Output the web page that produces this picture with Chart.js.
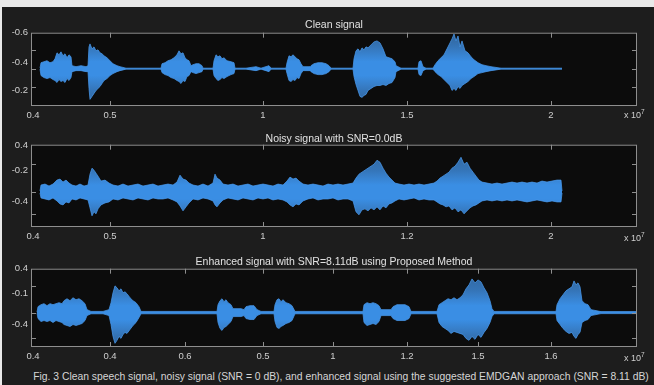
<!DOCTYPE html>
<html>
<head>
<meta charset="utf-8">
<script src="https://cdn.jsdelivr.net/npm/chart.js@4.4.1/dist/chart.umd.min.js"></script>
<style>
  html, body { margin:0; padding:0; }
  body { width:654px; height:385px; background:#e9e9e9; position:relative; overflow:hidden;
         font-family:"Liberation Sans", Arial, sans-serif; }
  #bg { position:absolute; left:2px; top:7px; width:652px; height:378px; background:#1d1d1d; }
  canvas { position:absolute; left:0; }
  .title { position:absolute; left:31px; width:606px; text-align:center; color:#e2e2e2; font-size:10.5px; line-height:12px; }
  .exp { position:absolute; left:624px; color:#cfcfcf; font-size:9px; line-height:10px; }
  .exp sup { font-size:6.5px; vertical-align:4px; }
  #caption { position:absolute; left:0; width:654px; top:371px; text-align:center; color:#d6d6d6; font-size:10.35px; line-height:12px; padding-left:28px; box-sizing:border-box; white-space:nowrap; }
</style>
</head>
<body>
<div id="bg"></div>
<canvas id="c1" width="654" height="100" style="top:24px"></canvas>
<canvas id="c2" width="654" height="109" style="top:136px"></canvas>
<canvas id="c3" width="654" height="105" style="top:260px"></canvas>
<div class="title" style="top:18px">Clean signal</div>
<div class="title" style="top:132px">Noisy signal with SNR=0.0dB</div>
<div class="title" style="top:255px">Enhanced signal with SNR=8.11dB using Proposed Method</div>
<div class="exp" style="top:107px">x 10<sup>7</sup></div>
<div class="exp" style="top:230px">x 10<sup>7</sup></div>
<div class="exp" style="top:350px">x 10<sup>7</sup></div>
<div id="caption">Fig. 3 Clean speech signal, noisy signal (SNR = 0 dB), and enhanced signal using the suggested EMDGAN approach (SNR = 8.11 dB)</div>
<script>
// ---------- DATA (time in frames, amplitude envelope in units of 0.01) ----------
const cleanTime = [9,10,13,16,19,22,24,26,28,30,
 32,34,36,38,40,41,45,50,55,57,
 58,59,61,63,65,67,69,71,73,76,
 79,82,86,89,95,110,125,130,131,134,
 137,140,143,146,148,150,152,154,156,158,
 160,162,165,168,171,172,180,182,183,185,
 187,189,191,193,196,200,203,204,215,225,
 230,238,240,255,256,258,260,262,264,266,
 268,270,272,276,279,280,283,287,291,295,
 298,300,310,322,323,325,327,329,331,333,
 335,337,340,343,346,349,352,355,358,361,
 364,365,370,380,387,388,390,392,395,402,
 404,407,410,413,416,419,421,423,425,427,
 429,431,434,437,440,443,447,451,455,460,
 470,500,531];
const cleanUpper = [0.5,6,7,8,6,7,10,16,14,17,
 13,15,11,14,12,3,2,3,2,3,
 22,25,20,22,18,19,16,15,13,11,
 8,5,3,2,0.5,0.5,0.5,0.5,5,6,
 8,9,11,14,18,15,16,11,9,8,
 3,4,5,5,3,0.5,0.5,0.5,8,14,
 12,13,10,11,8,7,6,0.5,0.5,2,
 0.5,3,0.5,0.5,6,13,12,14,12,10,
 9,5,2,2,2,3,5,6,6,5,
 3,0.5,0.5,0.5,10,18,20,17,21,19,
 22,21,24,27,28,26,20,12,11,10,
 7,3,0.5,0.5,0.5,7,8,2,0.5,0.5,
 4,8,11,14,20,26,30,35,28,33,
 22,28,18,16,12,9,6,4,3,2,
 0.5,0.5,0.5];
const cleanLower = [-0.5,-7,-9,-10,-9,-11,-12,-14,-11,-13,
 -12,-14,-10,-12,-9,-3,-2,-2,-3,-3,
 -20,-31,-28,-25,-22,-20,-18,-15,-12,-10,
 -7,-5,-3,-2,-0.5,-0.5,-0.5,-0.5,-4,-6,
 -7,-9,-10,-12,-13,-15,-12,-13,-8,-7,
 -3,-4,-5,-4,-3,-0.5,-0.5,-0.5,-7,-10,
 -12,-11,-9,-10,-8,-6,-5,-0.5,-0.5,-2,
 -0.5,-3,-0.5,-0.5,-5,-12,-13,-11,-12,-9,
 -10,-5,-2,-2,-2,-3,-5,-6,-6,-5,
 -3,-0.5,-0.5,-0.5,-8,-16,-22,-28,-29,-27,
 -26,-22,-20,-18,-17,-17,-16,-17,-15,-14,
 -9,-3,-0.5,-0.5,-0.5,-6,-7,-2,-0.5,-0.5,
 -3,-6,-8,-11,-14,-17,-22,-20,-22,-18,
 -20,-17,-15,-13,-10,-8,-5,-4,-3,-2,
 -0.5,-0.5,-0.5];

const noisyTime = [9,10,14,18,22,26,29,32,35,38,
 41,45,49,53,57,59,61,63,65,67,
 70,74,78,82,87,92,97,102,107,112,
 117,122,127,132,137,142,146,149,152,155,
 158,162,167,172,177,182,184,186,189,192,
 197,202,207,212,217,222,227,232,237,242,
 247,252,256,259,262,265,268,272,277,282,
 287,292,297,302,307,312,317,322,325,328,
 331,334,337,340,343,346,349,352,355,358,
 361,364,368,373,378,383,388,393,398,403,
 406,409,412,415,418,421,424,427,430,433,
 436,439,442,445,448,451,456,461,466,471,
 476,481,486,491,496,501,506,511,516,521,
 526,530,531];
const noisyUpper = [1,7,8,6,8,12,13,10,12,9,
 7,6,8,6,7,18,24,22,19,16,
 11,12,9,7,6,8,6,7,8,6,
 7,8,6,7,8,7,10,17,13,12,
 9,7,6,8,6,9,18,14,12,8,
 7,8,6,7,8,6,7,8,7,6,
 8,7,11,15,13,14,11,8,7,8,
 7,6,8,7,8,7,8,9,14,18,
 20,22,24,26,28,32,30,24,19,15,
 12,9,8,7,8,7,8,7,8,9,
 11,14,16,18,20,24,26,30,35,28,
 30,24,20,16,12,10,9,8,9,8,
 9,10,9,10,9,10,9,11,10,11,
 12,12,1];
const noisyLower = [-1,-6,-7,-8,-6,-9,-12,-13,-10,-11,
 -7,-8,-6,-7,-8,-16,-24,-20,-22,-17,
 -13,-11,-10,-7,-8,-6,-7,-8,-6,-7,
 -8,-6,-7,-7,-6,-8,-10,-14,-19,-15,
 -11,-7,-8,-6,-7,-9,-13,-15,-11,-8,
 -6,-7,-8,-6,-7,-8,-6,-7,-6,-8,
 -7,-8,-10,-13,-15,-12,-13,-9,-7,-6,
 -8,-7,-7,-6,-8,-7,-7,-9,-20,-23,
 -18,-17,-19,-16,-18,-15,-18,-14,-16,-12,
 -11,-9,-7,-8,-7,-6,-8,-7,-8,-8,
 -10,-12,-13,-15,-14,-18,-16,-20,-18,-22,
 -19,-16,-14,-13,-11,-9,-8,-9,-8,-9,
 -8,-9,-8,-9,-10,-9,-8,-9,-10,-9,
 -10,-10,-1];

const enhancedTime = [6,7,10,13,16,19,22,25,28,31,
 33,36,39,42,45,48,51,54,56,60,
 66,72,78,80,82,84,86,88,90,92,
 94,96,99,102,105,108,110,130,150,170,
 186,187,189,191,193,195,197,200,202,206,
 210,213,215,219,223,226,230,243,244,246,
 248,250,252,255,258,261,264,280,300,332,
 333,336,339,342,345,348,350,355,360,362,
 366,370,374,378,380,395,406,408,411,414,
 417,420,423,426,429,432,435,438,441,444,
 447,450,453,456,459,461,463,480,500,525,
 526,529,532,535,538,541,543,545,547,549,
 551,554,557,560,570,590,606];
const enhancedUpper = [0.5,6,8,9,7,9,8,9,10,9,
 12,14,12,15,13,14,12,9,3,1.2,
 1.2,1.2,3,10,20,27,25,22,24,20,
 21,19,15,12,10,6,1.2,1.2,1.2,1.2,
 1.2,8,12,14,11,13,10,8,4,4,
 4,3,6,7,7,3,1.2,1.2,8,13,
 14,11,13,10,9,7,1.2,1.2,1.2,1.2,
 8,10,9,10,9,7,3,3,3,6,
 8,8,8,6,1.2,1.2,1.2,8,10,12,
 14,13,15,13,15,18,24,28,34,30,
 33,31,25,20,12,4,1.2,1.2,1.2,1.2,
 8,14,18,22,24,26,32,28,30,26,
 12,9,8,3,1,1,1];
const enhancedLower = [-0.5,-6,-9,-8,-9,-8,-10,-8,-9,-10,
 -12,-13,-14,-12,-13,-12,-11,-8,-3,-1.2,
 -1.2,-1.2,-3,-12,-24,-31,-28,-24,-26,-22,
 -20,-21,-17,-13,-10,-5,-1.2,-1.2,-1.2,-1.2,
 -1.2,-10,-16,-18,-15,-14,-12,-9,-4,-4,
 -4,-3,-6,-7,-7,-3,-1.2,-1.2,-9,-15,
 -16,-14,-13,-11,-10,-8,-1.2,-1.2,-1.2,-1.2,
 -10,-13,-12,-11,-12,-9,-3,-3,-3,-6,
 -8,-8,-8,-6,-1.2,-1.2,-1.2,-10,-14,-16,
 -18,-21,-19,-20,-21,-22,-26,-28,-24,-27,
 -22,-25,-20,-16,-10,-4,-1.2,-1.2,-1.2,-1.2,
 -8,-12,-16,-19,-21,-20,-24,-26,-22,-20,
 -10,-8,-7,-3,-1,-1,-1];

// tick labels (as printed in the figure) and their axis values
const xTickValsA = [2, 79, 232, 376, 520];
const cleanXLabels = ['0.4','0.5','1','1.5','2'];
const noisyXLabels = ['0.4','0.5','1','1.2','2'];
const xTickValsB = [2, 79, 154, 232, 302, 376, 447, 520];
const enhancedXLabels = ['0.4','0.4','0.6','0.5','1','1.2','1.5','1.6'];

const cleanYVals = [36.3, 6.3, -21.7];
const cleanYLabels = ['-0.6','-0.4','-0.2'];
const noisyYVals = [46.7, 21.7, -9.3];
const noisyYLabels = ['0.4','-0.2','-0.4'];
const enhancedYVals = [44.3, 19.3, -11.7];
const enhancedYLabels = ['0.4','-0.1','-0.4'];

// inner tick marks
const cleanYMarks = [19.3, 0, -18.7];
const noisyYMarks = [28.7, 0, -22.3];
const enhancedYMarks = [27.3, 0, -25.7];

// ---------- CHART ----------
const AXIS = '#8e8e8e';

function waveFill(ctx) {
  const chart = ctx.chart, a = chart.chartArea;
  if (!a) return '#3a8ee4';
  const y0 = chart.scales.y.getPixelForValue(0);
  const h = a.bottom - a.top;
  const g = chart.ctx.createLinearGradient(0, a.top, 0, a.bottom);
  const f = p => Math.min(1, Math.max(0, (p - a.top) / h));
  g.addColorStop(0, 'rgba(70,150,235,0.62)');
  g.addColorStop(f(y0 - 22), 'rgba(64,146,232,0.78)');
  g.addColorStop(f(y0 - 7), 'rgba(58,142,228,1)');
  g.addColorStop(f(y0 + 7), 'rgba(58,142,228,1)');
  g.addColorStop(f(y0 + 22), 'rgba(64,146,232,0.78)');
  g.addColorStop(1, 'rgba(70,150,235,0.62)');
  return g;
}

const framePlugin = {
  id: 'frame',
  beforeDraw(chart) {
    const a = chart.chartArea, c = chart.ctx;
    c.save(); c.fillStyle = '#0c0c0c';
    c.fillRect(a.left, a.top, a.right - a.left, a.bottom - a.top);
    c.restore();
  },
  afterDraw(chart) {
    const a = chart.chartArea, c = chart.ctx, o = chart.options.plugins.frame;
    const xs = chart.scales.x, ys = chart.scales.y;
    c.save();
    c.strokeStyle = AXIS; c.lineWidth = 1;
    c.strokeRect(a.left + 0.5, a.top + 0.5, a.right - a.left - 1, a.bottom - a.top - 1);
    c.beginPath();
    o.xMarks.forEach(v => {
      const p = Math.round(xs.getPixelForValue(v)) + 0.5;
      c.moveTo(p, a.top); c.lineTo(p, a.top + 5);
      c.moveTo(p, a.bottom); c.lineTo(p, a.bottom - 5);
    });
    o.yMarks.forEach(v => {
      const p = Math.round(ys.getPixelForValue(v)) + 0.5;
      c.moveTo(a.left, p); c.lineTo(a.left + 5, p);
      c.moveTo(a.right, p); c.lineTo(a.right - 5, p);
    });
    c.stroke();
    c.restore();
  }
};

function makePanel(id, time, upper, lower, yMin, yMax, yVals, yLabels, yMarks, xVals, xLabels) {
  const up = time.map((t, i) => ({x: t, y: upper[i]}));
  const lo = time.map((t, i) => ({x: t, y: lower[i]}));
  const tickFont = {family: '"Liberation Sans", Arial, sans-serif', size: 9.5};
  const edge = 'rgba(72,152,236,0.75)';
  new Chart(document.getElementById(id), {
    type: 'line',
    data: { datasets: [
      {data: up, borderColor: edge, borderWidth: 1, pointRadius: 0, fill: false, tension: 0},
      {data: lo, borderColor: edge, borderWidth: 1, pointRadius: 0, fill: '-1', backgroundColor: waveFill, tension: 0}
    ]},
    options: {
      responsive: false, animation: false, devicePixelRatio: 1,
      layout: {padding: {left: 0, right: 17, top: 8, bottom: 0}},
      plugins: {legend: {display: false}, tooltip: {enabled: false},
        frame: {xMarks: xVals.slice(1), yMarks: yMarks}},
      scales: {
        x: {type: 'linear', min: 0, max: 606,
            grid: {display: false, drawTicks: false}, border: {display: false},
            afterBuildTicks: s => { s.ticks = xVals.map(v => ({value: v})); },
            afterFit: s => { s.height = 18; },
            ticks: {autoSkip: false, maxRotation: 0, padding: 4, color: '#cfcfcf', font: tickFont,
                    callback: (v, i) => xLabels[i]}},
        y: {type: 'linear', min: yMin, max: yMax,
            grid: {display: false, drawTicks: false}, border: {display: false},
            afterBuildTicks: s => { s.ticks = yVals.map(v => ({value: v})); },
            afterFit: s => { s.width = 31; },
            ticks: {autoSkip: false, padding: 3, color: '#cfcfcf', font: tickFont,
                    callback: (v, i) => yLabels[i]}}
      }
    },
    plugins: [framePlugin]
  });
}

makePanel('c1', cleanTime, cleanUpper, cleanLower, -37.7, 36.3, cleanYVals, cleanYLabels, cleanYMarks, xTickValsA, cleanXLabels);
makePanel('c2', noisyTime, noisyUpper, noisyLower, -35.3, 47.7, noisyYVals, noisyYLabels, noisyYMarks, xTickValsA, noisyXLabels);
makePanel('c3', enhancedTime, enhancedUpper, enhancedLower, -34.7, 44.3, enhancedYVals, enhancedYLabels, enhancedYMarks, xTickValsB, enhancedXLabels);
</script>
</body>
</html>
